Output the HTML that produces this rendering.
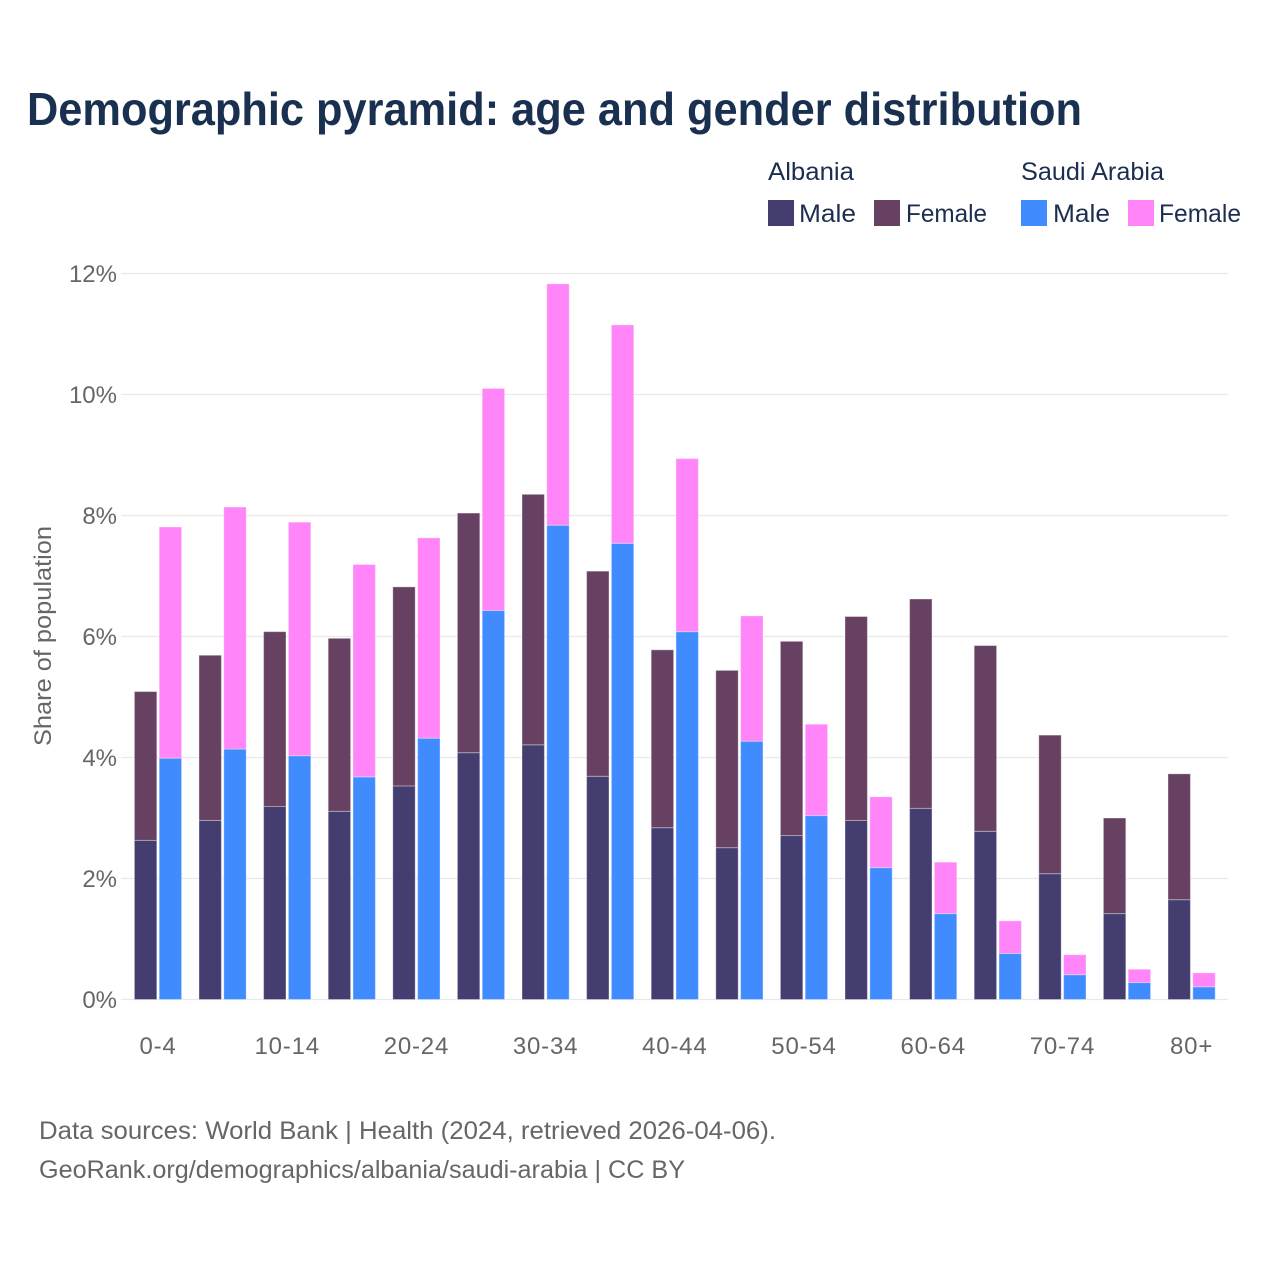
<!DOCTYPE html>
<html lang="en">
<head>
<meta charset="utf-8">
<title>Demographic pyramid: age and gender distribution</title>
<style>
  html, body { margin: 0; padding: 0; background: #ffffff; }
  svg { display: block; font-family: "Liberation Sans", sans-serif; }
  .legend-text { fill: #1c2e4f; font-size: 25px; }
  .tick { fill: #666666; font-size: 24px; }
  .source { fill: #666666; font-size: 25px; }
</style>
</head>
<body>
<svg id="chart" xmlns="http://www.w3.org/2000/svg" width="1280" height="1280" viewBox="0 0 1280 1280">
  <rect x="0" y="0" width="1280" height="1280" fill="#ffffff"/>
  <text x="27" y="125" font-size="46" font-weight="700" fill="#1a3050" textLength="1055" lengthAdjust="spacingAndGlyphs">Demographic pyramid: age and gender distribution</text>

  <g>
    <text class="legend-text" x="768" y="180" textLength="86" lengthAdjust="spacingAndGlyphs">Albania</text>
    <text class="legend-text" x="1021" y="180" textLength="143" lengthAdjust="spacingAndGlyphs">Saudi Arabia</text>
    <rect x="768" y="200" width="26" height="26" fill="#433e6f"/>
    <text class="legend-text" x="799" y="222" textLength="57" lengthAdjust="spacingAndGlyphs">Male</text>
    <rect x="874" y="200" width="26" height="26" fill="#674161"/>
    <text class="legend-text" x="906" y="222" textLength="81" lengthAdjust="spacingAndGlyphs">Female</text>
    <rect x="1021" y="200" width="26" height="26" fill="#408cff"/>
    <text class="legend-text" x="1053" y="222" textLength="57" lengthAdjust="spacingAndGlyphs">Male</text>
    <rect x="1128" y="200" width="26" height="26" fill="#ff85f9"/>
    <text class="legend-text" x="1159" y="222" textLength="82" lengthAdjust="spacingAndGlyphs">Female</text>
  </g>

  <g id="grid"></g>
  <g id="bars"></g>
  <g id="y-ticks"></g>
  <g id="x-ticks"></g>

  <text class="tick" transform="translate(51,746) rotate(-90)" x="0" y="0" textLength="220" lengthAdjust="spacingAndGlyphs">Share of population</text>

  <text class="source" x="39" y="1139" textLength="737" lengthAdjust="spacingAndGlyphs">Data sources: World Bank | Health (2024, retrieved 2026-04-06).</text>
  <text class="source" x="39" y="1178" textLength="646" lengthAdjust="spacingAndGlyphs">GeoRank.org/demographics/albania/saudi-arabia | CC BY</text>
</svg>

<script>
const categories = ["0-4","5-9","10-14","15-19","20-24","25-29","30-34","35-39","40-44","45-49","50-54","55-59","60-64","65-69","70-74","75-79","80+"];
const albaniaMale = [2.63,2.96,3.19,3.11,3.53,4.08,4.21,3.69,2.84,2.51,2.71,2.96,3.16,2.78,2.08,1.42,1.65];
const albaniaFemale = [2.46,2.73,2.89,2.86,3.29,3.96,4.14,3.39,2.94,2.93,3.21,3.37,3.46,3.07,2.29,1.58,2.08];
const saudiMale = [3.99,4.14,4.03,3.68,4.32,6.43,7.84,7.54,6.08,4.27,3.04,2.18,1.42,0.76,0.41,0.28,0.21];
const saudiFemale = [3.82,4.00,3.86,3.51,3.31,3.67,3.99,3.61,2.86,2.07,1.51,1.17,0.85,0.54,0.33,0.22,0.23];
const yTickValues = [0,2,4,6,8,10,12];
const xTickLabels = ["0-4","10-14","20-24","30-34","40-44","50-54","60-64","70-74","80+"];

const SVG_NS = "http://www.w3.org/2000/svg";
const yScale = function (v) { return 999.5 - v * 60.5; };
const bandCenter = function (i) { return 158 + i * 64.6; };
const BAR_WIDTH = 22.4;
const BAR_OFFSET = 12.4;

function makeRect(x, y0, y1, fill) {
  const r = document.createElementNS(SVG_NS, "rect");
  r.setAttribute("x", x);
  r.setAttribute("y", y1);
  r.setAttribute("width", BAR_WIDTH);
  r.setAttribute("height", Math.max(0, y0 - y1));
  r.setAttribute("fill", fill);
  r.setAttribute("stroke", "#ffffff");
  r.setAttribute("stroke-opacity", "0.35");
  r.setAttribute("stroke-width", "1");
  return r;
}

const grid = document.getElementById("grid");
yTickValues.forEach(function (v) {
  const line = document.createElementNS(SVG_NS, "line");
  
  
  line.setAttribute("x1", 121);
  line.setAttribute("x2", 1228);
  line.setAttribute("y1", yScale(v));
  line.setAttribute("y2", yScale(v));
  line.setAttribute("stroke", "#e9e9e9");
  line.setAttribute("stroke-width", "1.2");
  grid.appendChild(line);
});

const bars = document.getElementById("bars");
categories.forEach(function (cat, i) {
  const leftX = bandCenter(i) - BAR_OFFSET - BAR_WIDTH / 2;
  const rightX = bandCenter(i) + BAR_OFFSET - BAR_WIDTH / 2;

  const am = makeRect(leftX, yScale(0), yScale(albaniaMale[i]), "#433e6f");
  
  
  bars.appendChild(am);

  const af = makeRect(leftX, yScale(albaniaMale[i]), yScale(albaniaMale[i] + albaniaFemale[i]), "#674161");
  
  
  bars.appendChild(af);

  const sm = makeRect(rightX, yScale(0), yScale(saudiMale[i]), "#408cff");
  
  
  bars.appendChild(sm);

  const sf = makeRect(rightX, yScale(saudiMale[i]), yScale(saudiMale[i] + saudiFemale[i]), "#ff85f9");
  
  
  bars.appendChild(sf);
});

const yTicks = document.getElementById("y-ticks");
yTickValues.forEach(function (v) {
  const t = document.createElementNS(SVG_NS, "text");
  
  
  t.setAttribute("class", "tick");
  t.setAttribute("x", 117);
  t.setAttribute("y", yScale(v) + 8.5);
  t.setAttribute("text-anchor", "end");
  t.textContent = v + "%";
  yTicks.appendChild(t);
});

const xTicks = document.getElementById("x-ticks");
xTickLabels.forEach(function (label) {
  const t = document.createElementNS(SVG_NS, "text");
  
  
  t.setAttribute("class", "tick");
  t.setAttribute("x", bandCenter(categories.indexOf(label)));
  t.setAttribute("y", 1054);
  t.setAttribute("text-anchor", "middle");
  t.setAttribute("letter-spacing", "0.8");
  t.textContent = label;
  xTicks.appendChild(t);
});
</script>
</body>
</html>
